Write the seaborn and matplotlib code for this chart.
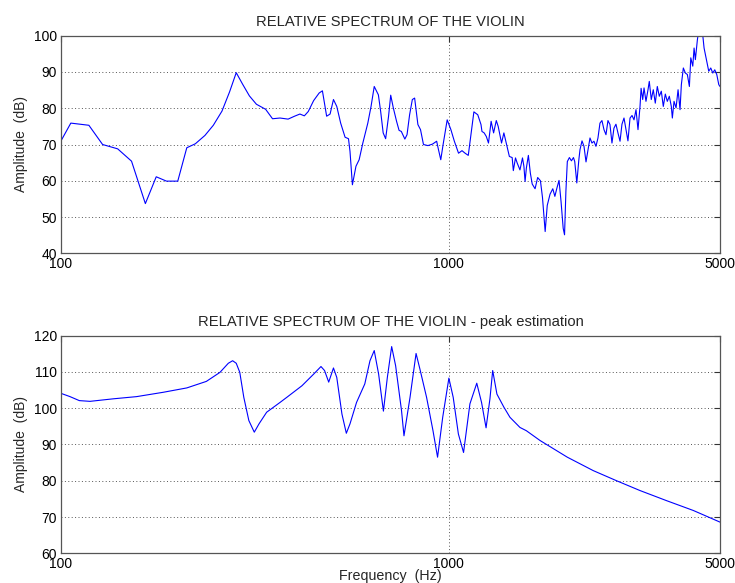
import matplotlib
matplotlib.use("Agg")
import matplotlib.pyplot as plt
import matplotlib.ticker as mticker
import seaborn as sns
import pandas as pd

# ---------------- data ----------------
top_freq_hz = [100, 106, 118, 128, 140, 152, 165, 176, 187, 200, 211, 222, 235, 247, 260,
               272, 283, 294, 306, 319, 337, 351, 367, 385, 400, 413, 424, 434, 448, 463,
               472, 484, 494, 504, 514, 526, 540, 551, 556, 564, 576, 587, 600, 618, 630,
               642, 658, 667, 677, 687, 699, 708, 719, 733, 744, 754, 770, 780, 792, 805,
               816, 832, 845, 860, 883, 907, 930, 940, 953, 966, 990, 1012, 1033, 1059, 1081,
               1101, 1122, 1140, 1160, 1187, 1210, 1217, 1233, 1249, 1265, 1285, 1304, 1325, 1340, 1367,
               1386, 1409, 1432, 1456, 1466, 1485, 1500, 1525, 1548, 1561, 1572, 1584, 1603, 1622, 1640,
               1668, 1694, 1722, 1743, 1771, 1793, 1823, 1853, 1876, 1899, 1923, 1946, 1971, 1987, 2003,
               2020, 2045, 2070, 2095, 2111, 2137, 2163, 2178, 2204, 2230, 2257, 2284, 2311, 2338, 2366,
               2394, 2423, 2452, 2481, 2511, 2541, 2571, 2602, 2633, 2664, 2696, 2728, 2762, 2794, 2828,
               2861, 2895, 2931, 2966, 3001, 3037, 3073, 3110, 3130, 3160, 3185, 3222, 3261, 3286, 3325,
               3365, 3405, 3446, 3487, 3529, 3571, 3614, 3657, 3701, 3745, 3768, 3806, 3852, 3898, 3944,
               3975, 4022, 4071, 4119, 4169, 4204, 4254, 4287, 4320, 4372, 4416, 4495, 4549, 4622, 4677,
               4733, 4790, 4847, 4905, 4964, 5000]
top_amp_db = [71.0, 75.9, 75.3, 70.0, 68.8, 65.4, 53.7, 61.1, 59.9, 59.9, 69.1, 70.2, 72.5, 75.3, 79.2,
              84.5, 89.8, 86.6, 83.4, 81.1, 79.7, 77.1, 77.3, 77.0, 77.8, 78.4, 77.9, 79.1, 82.1, 84.2,
              84.8, 77.8, 78.4, 82.4, 80.5, 75.9, 72.0, 71.6, 68.1, 58.9, 64.0, 65.8, 70.4, 75.9, 80.5,
              86.0, 83.7, 79.1, 73.2, 71.6, 77.8, 83.6, 80.1, 76.4, 73.9, 73.6, 71.5, 72.7, 78.2, 82.4,
              82.8, 75.5, 74.1, 70.0, 69.7, 70.1, 70.9, 68.6, 65.8, 69.9, 76.8, 74.1, 70.9, 67.6, 68.3,
              67.6, 67.0, 72.7, 79.0, 78.2, 75.5, 73.6, 73.2, 72.2, 70.4, 76.4, 73.2, 76.6, 75.0, 70.4,
              73.2, 69.9, 66.7, 66.4, 62.8, 66.3, 64.9, 63.0, 66.3, 64.0, 59.8, 63.5, 67.0, 62.1, 59.1,
              57.8, 60.9, 60.0, 55.4, 46.0, 53.2, 56.3, 57.8, 55.7, 58.0, 60.1, 54.3, 46.9, 45.1, 57.1,
              65.3, 66.4, 65.5, 66.4, 65.3, 59.4, 65.8, 68.6, 71.0, 69.5, 65.2, 68.6, 71.8, 70.4, 70.9,
              69.5, 71.8, 75.9, 76.6, 74.1, 72.7, 76.6, 75.5, 70.4, 74.5, 75.6, 73.2, 70.9, 75.6, 77.3,
              74.1, 71.0, 77.3, 78.0, 76.8, 79.6, 74.1, 80.5, 85.5, 82.4, 85.6, 81.9, 85.1, 87.4, 82.4,
              85.1, 81.4, 86.0, 83.3, 84.7, 80.5, 83.9, 81.9, 83.3, 80.5, 77.3, 81.9, 80.1, 85.1, 79.6,
              86.5, 91.1, 89.7, 89.3, 86.0, 93.9, 91.6, 96.6, 93.4, 98.9, 102.0, 102.0, 96.6, 93.0, 90.2,
              91.1, 89.7, 90.6, 89.3, 86.5, 86.0]

est_freq_hz = [100, 105.5, 111.5, 118.8, 136.5, 156.6, 183.5, 211, 237, 257, 270, 277, 283, 289, 296,
               305, 315, 324, 339, 367, 382, 418, 448, 468, 478, 490, 504, 514, 530, 544,
               556, 578, 607, 626, 642, 659, 678, 694, 712, 729, 755, 766, 794, 823, 842,
               876, 910, 935, 964, 1000, 1026, 1058, 1091, 1133, 1180, 1214, 1247, 1276, 1297, 1330,
               1386, 1437, 1525, 1584, 1718, 2020, 2356, 2707, 3110, 3644, 4269, 5000]
est_amp_db = [104.1, 103.2, 102.1, 101.9, 102.6, 103.2, 104.4, 105.6, 107.4, 109.9, 112.4, 113.1, 112.4, 109.9, 103.0,
              96.6, 93.4, 95.7, 98.9, 101.6, 103.0, 106.2, 109.4, 111.5, 110.4, 107.2, 111.1, 108.5, 98.4, 93.1,
              95.7, 101.6, 106.7, 113.1, 115.9, 109.4, 99.2, 108.5, 117.0, 111.7, 99.3, 92.4, 103.0, 115.1, 110.8,
              103.0, 93.8, 86.5, 97.5, 108.3, 103.0, 92.9, 87.8, 101.2, 106.9, 101.6, 94.6, 102.6, 110.4, 103.9,
              100.3, 97.5, 94.7, 93.8, 91.1, 86.5, 82.8, 80.0, 77.3, 74.5, 71.8, 68.6]

x_ticks = [100, 1000, 5000]
x_ticklabels = ["100", "1000", "5000"]
top_yticks = [40, 50, 60, 70, 80, 90, 100]
bot_yticks = [60, 70, 80, 90, 100, 110, 120]

top_title = "RELATIVE SPECTRUM OF THE VIOLIN"
bot_title = "RELATIVE SPECTRUM OF THE VIOLIN - peak estimation"
ylabel = "Amplitude  (dB)"
xlabel = "Frequency  (Hz)"

# ---------------- style ----------------
sns.set_theme(style="white")
plt.rcParams['font.family'] = ['Liberation Sans', 'DejaVu Sans']
plt.rcParams['axes.unicode_minus'] = False

W, H = 735, 583
fig = plt.figure(figsize=(W / 100, H / 100), dpi=100)
fig.patch.set_facecolor("white")

ax1 = fig.add_axes([61 / W, 1 - 253.3 / H, 659 / W, 217.6 / H])
ax2 = fig.add_axes([61 / W, 1 - 553.3 / H, 659 / W, 217.6 / H])

df_top = pd.DataFrame({"f": top_freq_hz, "a": top_amp_db})
df_bot = pd.DataFrame({"f": est_freq_hz, "a": est_amp_db})

sns.lineplot(data=df_top, x="f", y="a", ax=ax1, color="#0000ff", lw=0.8,
             estimator=None, sort=False)
sns.lineplot(data=df_bot, x="f", y="a", ax=ax2, color="#0000ff", lw=0.8,
             estimator=None, sort=False)

for ax, yt, title in [(ax1, top_yticks, top_title), (ax2, bot_yticks, bot_title)]:
    ax.set_xscale("log")
    ax.set_xlim(100, 5000)
    ax.set_ylim(yt[0], yt[-1])
    ax.set_xticks(x_ticks)
    ax.set_xticklabels(x_ticklabels)
    ax.xaxis.set_minor_locator(mticker.NullLocator())
    ax.set_yticks(yt)
    ax.set_yticklabels([str(v) for v in yt])
    ax.tick_params(axis="both", which="major", direction="in", length=4, width=0.8,
                   color="#333333", labelsize=10, labelcolor="black",
                   top=True, right=True, pad=3)
    ax.grid(True, which="major", linestyle=(0, (1, 2.5)), color="#555555", lw=0.7)
    for s in ax.spines.values():
        s.set_visible(True)
        s.set_color("#555555")
        s.set_linewidth(0.9)
    ax.set_title(title, fontsize=10.6, pad=7)
    ax.set_ylabel(ylabel, fontsize=10, labelpad=4)
    ax.set_xlabel("")

ax2.set_xlabel(xlabel, fontsize=10.3, labelpad=-1.5)

fig.savefig("out.png", dpi=100, facecolor="white")
